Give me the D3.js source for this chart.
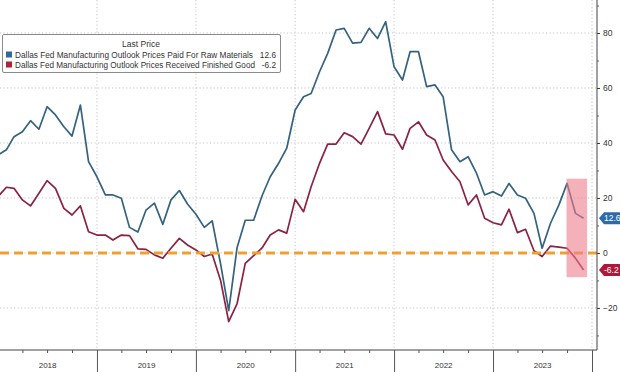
<!DOCTYPE html>
<html>
<head>
<meta charset="utf-8">
<script src="https://cdn.jsdelivr.net/npm/d3@7"></script>
<style>
  body { margin: 0; background: #fff; }
  svg { display: block; font-family: "Liberation Sans", Arial, sans-serif; }
</style>
</head>
<body>
<div id="plot"></div>
<script>
// monthly readings, Dec 2017 .. Nov 2023
const firstMonth = new Date(2017, 11, 1);
const lastMonth = new Date(2023, 10, 1);

const paid = [
  35.6,
  37.5, 42.3, 44.1, 48.1, 45.0, 53.2, 50.2, 45.9, 42.5, 53.8, 33.2, 27.7,
  21.1, 21.1, 19.9, 9.3, 7.6, 15.6, 18.1, 10.4, 19.3, 22.7, 17.8, 14.1,
  9.3, 11.7, -4.0, -21.0, 2.0, 11.9, 11.9, 20.8, 27.7, 32.6, 38.1, 52.0,
  56.8, 58.0, 65.9, 72.6, 81.1, 81.7, 76.3, 76.6, 81.7, 78.0, 84.1, 67.7,
  62.9, 73.2, 73.2, 60.5, 61.1, 56.8, 37.5, 33.2, 35.0, 29.0, 21.1, 22.3,
  20.7, 25.3, 21.1, 19.9, 14.4, 1.7, 10.8, 17.5, 25.3, 14.4, 12.6
];

const received = [
  20.5,
  23.9, 23.5, 19.3, 17.1, 21.7, 26.3, 23.5, 16.2, 13.8, 17.1, 7.7, 6.5,
  6.5, 4.7, 6.5, 6.3, 1.5, 1.3, -0.7, -1.9, 1.7, 5.3, 2.9, 1.1,
  -1.3, -0.4, -10.0, -25.0, -18.4, -3.8, -1.0, 1.8, 6.5, 8.4, 7.2, 19.5,
  15.0, 24.1, 32.6, 39.6, 39.6, 43.7, 42.3, 39.6, 45.3, 51.4, 43.3, 42.9,
  37.7, 45.3, 47.7, 42.9, 41.1, 33.8, 29.6, 25.9, 17.5, 21.1, 12.6, 11.0,
  10.2, 15.9, 7.4, 8.6, 0.8, -1.3, 2.5, 2.1, 1.7, -1.9, -6.2
];

const seriesNames = [
  "Dallas Fed Manufacturing Outlook Prices Paid For Raw Materials",
  "Dallas Fed Manufacturing Outlook Prices Received Finished Good"
];
const lastValues = ["12.6", "-6.2"];
const yTicks = [-20, 0, 20, 40, 60, 80];
const years = [2018, 2019, 2020, 2021, 2022, 2023];
// shaded box at the end (dates and values)
const highlight = { from: new Date(2023, 8, 29), to: new Date(2023, 11, 14), top: 27, bottom: -8.8 };

const W = 620, H = 372;
const plotRight = 597, plotBottom = 350;
const blue = "#34627f", red = "#8c2241";

const months = d3.timeMonth.range(firstMonth, d3.timeMonth.offset(lastMonth, 1));
const paidData = months.map((m, i) => ({ date: d3.timeMonth.offset(m, 1), v: paid[i] }));
const recData = months.map((m, i) => ({ date: d3.timeMonth.offset(m, 1), v: received[i] }));

const x = d3.scaleTime()
  .domain([new Date(2018, 0, 1), new Date(2024, 0, 1)])
  .range([-2, 592]);
const y = d3.scaleLinear().domain([-35.3, 92]).range([plotBottom, 0]);

const svg = d3.select("#plot").append("svg")
  .attr("width", W)
  .attr("height", H);

svg.append("defs").append("clipPath").attr("id", "clip")
  .append("rect").attr("x", 0).attr("y", 0).attr("width", plotRight).attr("height", plotBottom);

// gridlines
const grid = svg.append("g").attr("stroke", "#c4c4c4").attr("stroke-dasharray", "1.2,2.3");
grid.selectAll(".hg").data(yTicks).join("line")
  .attr("x1", 0).attr("x2", plotRight)
  .attr("y1", d => y(d)).attr("y2", d => y(d));
grid.selectAll(".vg").data(years.map(yr => new Date(yr + 1, 0, 1))).join("line")
  .attr("x1", d => x(d)).attr("x2", d => x(d))
  .attr("y1", 0).attr("y2", plotBottom);

// lines
const line = d3.line()
  .x(d => x(d.date))
  .y(d => y(d.v));

const plot = svg.append("g").attr("clip-path", "url(#clip)");
plot.append("path").datum(paidData)
  .attr("d", line).attr("fill", "none")
  .attr("stroke", blue).attr("stroke-width", 1.7).attr("stroke-linejoin", "round");
plot.append("path").datum(recData)
  .attr("d", line).attr("fill", "none")
  .attr("stroke", red).attr("stroke-width", 1.7).attr("stroke-linejoin", "round");

// zero line
plot.append("line")
  .attr("x1", 0).attr("x2", plotRight)
  .attr("y1", y(0)).attr("y2", y(0))
  .attr("stroke", "#f0a030").attr("stroke-width", 3)
  .attr("stroke-dasharray", "9,5");

// highlight box
plot.append("rect")
  .attr("x", x(highlight.from))
  .attr("width", x(highlight.to) - x(highlight.from))
  .attr("y", y(highlight.top))
  .attr("height", y(highlight.bottom) - y(highlight.top))
  .attr("fill", "#ee7d8a").attr("opacity", 0.6);

// right axis
const yAxis = svg.append("g").attr("transform", "translate(" + plotRight + ",0)");
yAxis.call(d3.axisRight(y).tickValues(yTicks).tickSize(3).tickSizeOuter(0).tickPadding(3));
yAxis.select(".domain").remove();
yAxis.selectAll("text").attr("font-size", 8.5).attr("fill", "#333").attr("font-family", "Liberation Sans, Arial, sans-serif");
yAxis.selectAll("line").attr("stroke", "#333");
const yMinor = svg.append("g").attr("transform", "translate(" + plotRight + ",0)");
yMinor.call(d3.axisRight(y).tickValues(d3.range(-30, 91, 10).filter(v => v % 20 !== 0)).tickSize(2).tickFormat(""));
yMinor.select(".domain").remove();
yMinor.selectAll("line").attr("stroke", "#666");
svg.append("line")
  .attr("x1", plotRight).attr("x2", plotRight)
  .attr("y1", 0).attr("y2", plotBottom)
  .attr("stroke", "#444");

// bottom axis
svg.append("line")
  .attr("x1", 0).attr("x2", plotRight)
  .attr("y1", plotBottom).attr("y2", plotBottom)
  .attr("stroke", "#444");
const quarters = d3.timeMonth.range(new Date(2018, 0, 1), new Date(2024, 0, 1), 3)
  .filter(d => d.getMonth() !== 0);
const xQ = svg.append("g").attr("transform", "translate(0," + plotBottom + ")");
xQ.call(d3.axisBottom(x).tickValues(quarters).tickSize(3).tickFormat(""));
xQ.select(".domain").remove();
xQ.selectAll("line").attr("stroke", "#555");
const xY = svg.append("g").attr("transform", "translate(0," + plotBottom + ")");
xY.call(d3.axisBottom(x).tickValues(years.map(yr => new Date(yr + 1, 0, 1))).tickSize(H - plotBottom).tickFormat(""));
xY.select(".domain").remove();
xY.selectAll("line").attr("stroke", "#555");
const xL = svg.append("g").attr("transform", "translate(0," + plotBottom + ")");
xL.call(d3.axisBottom(x).tickValues(years.map(yr => new Date(yr, 6, 1))).tickSize(0).tickPadding(12)
  .tickFormat(d3.timeFormat("%Y")));
xL.select(".domain").remove();
xL.selectAll("text").attr("font-size", 8).attr("fill", "#333").attr("font-family", "Liberation Sans, Arial, sans-serif");

// last value tags
const tags = [
  { v: +lastValues[0], label: lastValues[0], color: "#2d6aa8" },
  { v: +lastValues[1], label: lastValues[1], color: "#b0183a" }
];
const tag = svg.selectAll(".tag").data(tags).join("g")
  .attr("transform", d => "translate(599," + y(d.v) + ")");
tag.append("path")
  .attr("d", "M0,0 L5,-6 L21,-6 L21,6 L5,6 Z")
  .attr("fill", d => d.color);
tag.append("text")
  .attr("x", 5).attr("y", 3)
  .attr("font-size", 8.5).attr("fill", "#fff")
  .text(d => d.label);

// legend
const lg = svg.append("g");
lg.append("rect")
  .attr("x", 2.5).attr("y", 34.5).attr("width", 278).attr("height", 38)
  .attr("fill", "#fff").attr("stroke", "#8a8a8a").attr("rx", 1.5);
lg.append("text")
  .attr("x", 141).attr("y", 47).attr("text-anchor", "middle")
  .attr("font-size", 8.5).attr("fill", "#333").text("Last Price");
const lgColors = ["#2d6aa0", "#b2203c"];
seriesNames.forEach((name, i) => {
  const yy = 57.5 + i * 10;
  lg.append("rect").attr("x", 6).attr("y", yy - 6).attr("width", 6).attr("height", 6).attr("fill", lgColors[i]);
  lg.append("text")
    .attr("x", 15).attr("y", yy)
    .attr("font-size", 8.3).attr("fill", "#333")
    .attr("textLength", i === 0 ? 238 : 240).attr("lengthAdjust", "spacingAndGlyphs")
    .text(name);
  lg.append("text")
    .attr("x", 276).attr("y", yy).attr("text-anchor", "end")
    .attr("font-size", 8.3).attr("fill", "#333")
    .text(lastValues[i]);
});
</script>
</body>
</html>
